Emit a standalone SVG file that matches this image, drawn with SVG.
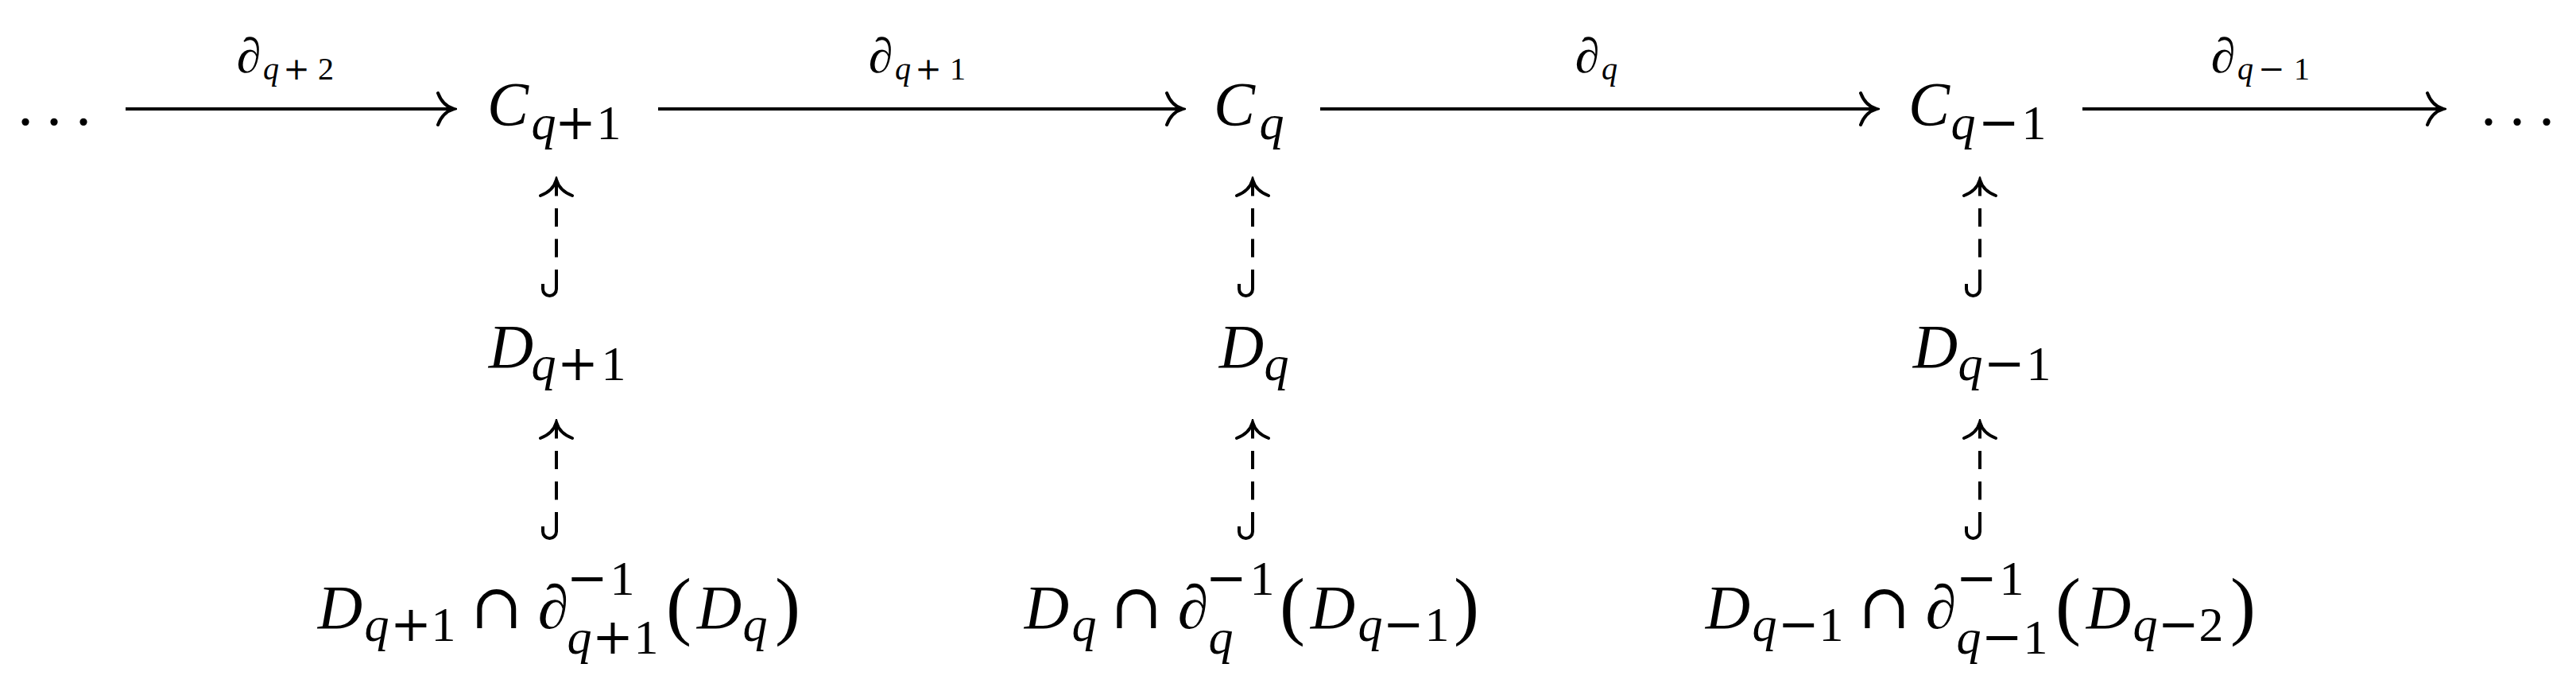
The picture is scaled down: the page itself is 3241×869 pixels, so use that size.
<svg xmlns="http://www.w3.org/2000/svg" width="3241" height="869" viewBox="0 0 3241 869">
<style>
text { font-family: "Liberation Serif", "DejaVu Serif", serif; fill: #000; text-anchor: middle; font-style: normal; }
.it { font-style: italic; }
.big { font-size: 78px; }
.sub { font-size: 62px; }
.lab { font-size: 62px; }
.lsub { font-size: 40px; }
.op { font-family: "DejaVu Serif", serif; font-style: normal; }
.par { font-size: 96px; font-style: normal; }
.line { fill: none; stroke: #000; stroke-width: 4; }
.dash { fill: none; stroke: #000; stroke-width: 4; stroke-dasharray: 23 15.5; }
.hook { fill: none; stroke: #000; stroke-width: 4; stroke-linecap: butt; }
</style>
<defs>
<marker id="head" viewBox="-24 -24 28 48" markerWidth="28" markerHeight="48" refX="0" refY="0" orient="auto" markerUnits="userSpaceOnUse">
<path d="M-20,-20 Q-14,-4 0,0 Q-14,4 -20,20" fill="none" stroke="#000" stroke-width="4" stroke-linecap="round" stroke-dasharray="none"/>
</marker>
</defs>
<rect x="0" y="0" width="3241" height="869" fill="#fff"/>

<g id="connectors">
  <g id="e-dots-Cq1">
    <path class="line" d="M158,137 H571" marker-end="url(#head)"/>
  </g>
  <g id="e-Cq1-Cq">
    <path class="line" d="M828,137 H1488" marker-end="url(#head)"/>
  </g>
  <g id="e-Cq-Cqm1">
    <path class="line" d="M1661,137 H2361" marker-end="url(#head)"/>
  </g>
  <g id="e-Cqm1-dots">
    <path class="line" d="M2620,137 H3074" marker-end="url(#head)"/>
  </g>
  <g id="e-Dq1-Cq1">
    <path class="dash" d="M700,362 V226" marker-end="url(#head)"/>
    <path class="hook" d="M700,350 V363.5 A8.5,8.5 0 0 1 683,363.5 V357"/>
  </g>
  <g id="e-Dq-Cq">
    <path class="dash" d="M1576,362 V226" marker-end="url(#head)"/>
    <path class="hook" d="M1576,350 V363.5 A8.5,8.5 0 0 1 1559,363.5 V357"/>
  </g>
  <g id="e-Dqm1-Cqm1">
    <path class="dash" d="M2491,362 V226" marker-end="url(#head)"/>
    <path class="hook" d="M2491,350 V363.5 A8.5,8.5 0 0 1 2474,363.5 V357"/>
  </g>
  <g id="e-B1-Dq1">
    <path class="dash" d="M700,667 V531" marker-end="url(#head)"/>
    <path class="hook" d="M700,655 V668.5 A8.5,8.5 0 0 1 683,668.5 V662"/>
  </g>
  <g id="e-B2-Dq">
    <path class="dash" d="M1576,667 V531" marker-end="url(#head)"/>
    <path class="hook" d="M1576,655 V668.5 A8.5,8.5 0 0 1 1559,668.5 V662"/>
  </g>
  <g id="e-B3-Dqm1">
    <path class="dash" d="M2491,667 V531" marker-end="url(#head)"/>
    <path class="hook" d="M2491,655 V668.5 A8.5,8.5 0 0 1 2474,668.5 V662"/>
  </g>
  <g id="edge-labels">
    <text><tspan class="it lab" x="313" y="91">∂</tspan><tspan class="it lsub" x="341" y="100">q</tspan><tspan class="op lsub" x="373" y="100">+</tspan><tspan class="lsub" x="410" y="100">2</tspan></text>
    <text><tspan class="it lab" x="1108" y="91">∂</tspan><tspan class="it lsub" x="1136" y="100">q</tspan><tspan class="op lsub" x="1168" y="100">+</tspan><tspan class="lsub" x="1205" y="100">1</tspan></text>
    <text><tspan class="it lab" x="1997" y="91">∂</tspan><tspan class="it lsub" x="2025" y="100">q</tspan></text>
    <text><tspan class="it lab" x="2797" y="91">∂</tspan><tspan class="it lsub" x="2825" y="100">q</tspan><tspan class="op lsub" x="2858" y="100">−</tspan><tspan class="lsub" x="2896" y="100">1</tspan></text>
  </g>
</g>

<g id="n-dots-left">
  <text class="big" x="32 68 105" y="157">...</text>
</g>
<g id="n-Cq1">
  <text><tspan class="it big" x="639" y="157">C</tspan><tspan class="it sub" x="684" y="175">q</tspan><tspan class="op sub" x="724" y="175">+</tspan><tspan class="sub" x="766" y="175">1</tspan></text>
</g>
<g id="n-Cq">
  <text><tspan class="it big" x="1553" y="157">C</tspan><tspan class="it sub" x="1600" y="175">q</tspan></text>
</g>
<g id="n-Cqm1">
  <text><tspan class="it big" x="2427" y="157">C</tspan><tspan class="it sub" x="2470" y="175">q</tspan><tspan class="op sub" x="2515" y="175">−</tspan><tspan class="sub" x="2559" y="175">1</tspan></text>
</g>
<g id="n-dots-right">
  <text class="big" x="3131 3167 3204" y="157">...</text>
</g>

<g id="n-Dq1">
  <text><tspan class="it big" x="643" y="462">D</tspan><tspan class="it sub" x="684" y="478">q</tspan><tspan class="op sub" x="727" y="478">+</tspan><tspan class="sub" x="772" y="478">1</tspan></text>
</g>
<g id="n-Dq">
  <text><tspan class="it big" x="1562" y="462">D</tspan><tspan class="it sub" x="1606" y="478">q</tspan></text>
</g>
<g id="n-Dqm1">
  <text><tspan class="it big" x="2435" y="462">D</tspan><tspan class="it sub" x="2479" y="478">q</tspan><tspan class="op sub" x="2522" y="478">−</tspan><tspan class="sub" x="2565" y="478">1</tspan></text>
</g>

<g id="n-B1">
  <text>
    <tspan class="it big" x="430" y="790">D</tspan>
    <tspan class="it sub" x="476" y="806">q</tspan>
    <tspan class="op sub" x="519" y="806">+</tspan>
    <tspan class="sub" x="560" y="806">1</tspan>
    <tspan class="op big" x="627" y="790">∩</tspan>
    <tspan class="it big" x="698" y="790">∂</tspan>
    <tspan class="op sub" x="741" y="748">−</tspan>
    <tspan class="sub" x="785" y="748">1</tspan>
    <tspan class="it sub" x="731" y="822">q</tspan>
    <tspan class="op sub" x="773" y="822">+</tspan>
    <tspan class="sub" x="815" y="822">1</tspan>
    <tspan class="par" x="856" y="793">(</tspan>
    <tspan class="it big" x="907" y="790">D</tspan>
    <tspan class="it sub" x="952" y="806">q</tspan>
    <tspan class="par" x="991" y="793">)</tspan>
  </text>
</g>
<g id="n-B2">
  <text>
    <tspan class="it big" x="1319" y="790">D</tspan>
    <tspan class="it sub" x="1366" y="806">q</tspan>
    <tspan class="op big" x="1432" y="790">∩</tspan>
    <tspan class="it big" x="1503" y="790">∂</tspan>
    <tspan class="op sub" x="1545" y="748">−</tspan>
    <tspan class="sub" x="1590" y="748">1</tspan>
    <tspan class="it sub" x="1538" y="822">q</tspan>
    <tspan class="par" x="1628" y="793">(</tspan>
    <tspan class="it big" x="1679" y="790">D</tspan>
    <tspan class="it sub" x="1726" y="806">q</tspan>
    <tspan class="op sub" x="1768" y="806">−</tspan>
    <tspan class="sub" x="1810" y="806">1</tspan>
    <tspan class="par" x="1845" y="793">)</tspan>
  </text>
</g>
<g id="n-B3">
  <text>
    <tspan class="it big" x="2176" y="790">D</tspan>
    <tspan class="it sub" x="2222" y="806">q</tspan>
    <tspan class="op sub" x="2265" y="806">−</tspan>
    <tspan class="sub" x="2306" y="806">1</tspan>
    <tspan class="op big" x="2373" y="790">∩</tspan>
    <tspan class="it big" x="2444" y="790">∂</tspan>
    <tspan class="op sub" x="2489" y="748">−</tspan>
    <tspan class="sub" x="2533" y="748">1</tspan>
    <tspan class="it sub" x="2479" y="822">q</tspan>
    <tspan class="op sub" x="2521" y="822">−</tspan>
    <tspan class="sub" x="2563" y="822">1</tspan>
    <tspan class="par" x="2604" y="793">(</tspan>
    <tspan class="it big" x="2655" y="790">D</tspan>
    <tspan class="it sub" x="2701" y="806">q</tspan>
    <tspan class="op sub" x="2743" y="806">−</tspan>
    <tspan class="sub" x="2784" y="806">2</tspan>
    <tspan class="par" x="2822" y="793">)</tspan>
  </text>
</g>
</svg>
